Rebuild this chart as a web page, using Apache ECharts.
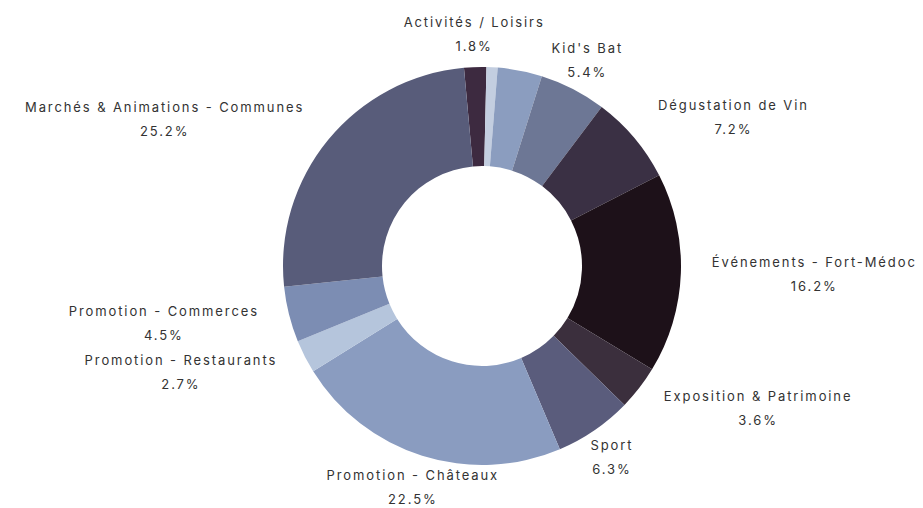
<!DOCTYPE html>
<html>
<head>
<meta charset="utf-8">
<script src="https://cdn.jsdelivr.net/npm/echarts@6/dist/echarts.min.js"></script>
<style>
  html, body { margin: 0; padding: 0; background: #ffffff; }
  #chart { width: 923px; height: 508px; }
  #chart text { letter-spacing: 1.9px; }
</style>
</head>
<body>
<div id="chart"></div>
<script>
// Slices, clockwise from the top
const categories = [
  "Activités / Loisirs",
  "Autres",
  "Divers",
  "Kid's Bat",
  "Dégustation de Vin",
  "Événements - Fort-Médoc",
  "Exposition & Patrimoine",
  "Sport",
  "Promotion - Châteaux",
  "Promotion - Restaurants",
  "Promotion - Commerces",
  "Marchés & Animations - Communes"
];
const percentValues = [1.8, 0.9, 3.6, 5.4, 7.2, 16.2, 3.6, 6.3, 22.5, 2.7, 4.5, 25.2];
const labelVisible = [true, false, false, true, true, true, true, true, true, true, true, true];
const sliceColors = [
  "#3d2a40", "#c3cee0", "#8b9dbf", "#6d7795", "#3a3044", "#1d1119",
  "#3b2f3d", "#5a5c7c", "#8a9cc0", "#b5c5dc", "#7c8db3", "#585c7a"
];

const CX = 482, CY = 266, R_OUT = 199, R_IN = 100;
const START = 95.2, GAP = 31, LS = 1.9;
const total = percentValues.reduce((a, b) => a + b, 0);

function midAngle(i) {
  let before = 0;
  for (let j = 0; j < i; j++) before += percentValues[j];
  return (90 - START + (before + percentValues[i] / 2) / total * 360) * Math.PI / 180;
}

const chart = echarts.init(document.getElementById('chart'), null, { renderer: 'svg' });
chart.setOption({
  animation: false,
  backgroundColor: '#ffffff',
  series: [{
    type: 'pie',
    center: [CX, CY],
    radius: [R_IN, R_OUT],
    startAngle: START,
    clockwise: true,
    avoidLabelOverlap: false,
    silent: true,
    itemStyle: { borderWidth: 0 },
    label: {
      show: true,
      position: 'outside',
      color: '#333333',
      fontFamily: 'Inter',
      fontSize: 13,
      lineHeight: 24,
      formatter: p => p.name + '\n' + percentValues[p.dataIndex].toFixed(1) + '%'
    },
    labelLine: { show: false, length: GAP, length2: 0 },
    labelLayout: function (p) {
      const i = p.dataIndex;
      const t = midAngle(i);
      const s = Math.sin(t), c = Math.cos(t);
      const qx = CX + (R_OUT + GAP) * s;
      const qy = CY - (R_OUT + GAP + 2) * c;
      const lines = [categories[i], percentValues[i].toFixed(1) + '%'];
      const maxChars = Math.max.apply(null, lines.map(l => l.length));
      const w = p.labelRect.width + LS * maxChars;
      let x = qx;
      if (s > 0.7) x = qx + w / 2;
      else if (s < -0.7) x = qx - w / 2;
      return { x: x, y: qy, align: 'center', verticalAlign: 'middle' };
    },
    data: categories.map((name, i) => ({
      name: name,
      value: percentValues[i],
      itemStyle: { color: sliceColors[i] },
      label: { show: labelVisible[i] }
    }))
  }]
});
</script>
</body>
</html>
